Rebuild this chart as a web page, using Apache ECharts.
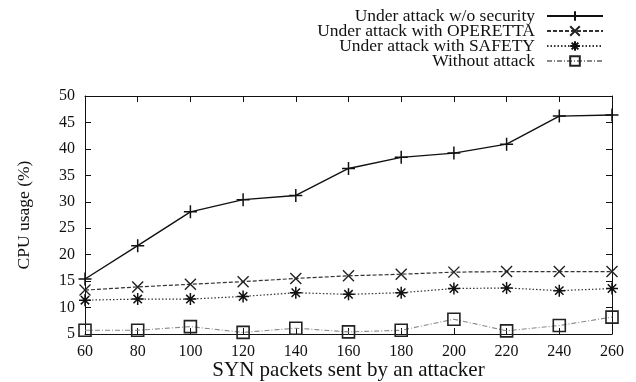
<!DOCTYPE html>
<html><head><meta charset="utf-8">
<script src="https://cdn.jsdelivr.net/npm/echarts@6/dist/echarts.min.js"></script>
<style>html,body{margin:0;padding:0;background:#fff}#c{width:636px;height:382px}</style>
</head><body><div id="c"></div>
<script>
var categories = ['60','80','100','120','140','160','180','200','220','240','260'];
var seriesNames = ['Under attack w/o security','Under attack with OPERETTA','Under attack with SAFETY','Without attack'];
var noSecurity = [15.4, 21.7, 28.1, 30.4, 31.2, 36.3, 38.4, 39.2, 40.9, 46.2, 46.4];
var operetta   = [13.3, 13.9, 14.4, 14.9, 15.5, 16.0, 16.3, 16.7, 16.8, 16.8, 16.8];
var safety     = [11.4, 11.6, 11.6, 12.1, 12.8, 12.5, 12.8, 13.6, 13.7, 13.2, 13.6];
var noAttack   = [5.7, 5.7, 6.4, 5.3, 6.1, 5.4, 5.7, 7.8, 5.6, 6.6, 8.2];
var yTicks = {min: 5, max: 50, interval: 5};

var FONT = '"Liberation Serif", "DejaVu Serif", serif';
var plusPath = 'path://M0,5L10,5M5,0L5,10';
var crossPath = 'path://M0,0L10,10M10,0L0,10';
var starPath = 'path://M0,5L10,5M5,0L5,10M1.5,1.5L8.5,8.5M8.5,1.5L1.5,8.5';

var chart = echarts.init(document.getElementById('c'), null, {renderer:'canvas'});
var axisLine = {show:true, lineStyle:{color:'#111', width:1}};
chart.setOption({
  animation:false,
  backgroundColor:'#fff',
  grid:{left:85, right:24, top:96, bottom:48, containLabel:false, outerBoundsMode:'none'},
  legend:{
    orient:'vertical', right:27, top:2, align:'right', itemWidth:56, itemHeight:12, itemGap:-3,
    textStyle:{fontFamily:FONT, fontSize:17.5, color:'#111', lineHeight:14, padding:[0,7,0,0]},
    data:seriesNames
  },
  xAxis:[{
    type:'category', data:categories, boundaryGap:false,
    axisLine:axisLine,
    axisTick:{show:true, inside:true, length:6, lineStyle:{color:'#111'}},
    axisLabel:{fontFamily:FONT, fontSize:16, color:'#111', margin:10},
    splitLine:{show:false},
    name:'SYN packets sent by an attacker', nameLocation:'middle', nameGap:26, nameMoveOverlap:false,
    nameTextStyle:{fontFamily:FONT, fontSize:21, color:'#111'}
  },{
    type:'category', data:categories, boundaryGap:false, position:'top',
    axisLine:axisLine,
    axisTick:{show:true, inside:true, length:6, lineStyle:{color:'#111'}},
    axisLabel:{show:false}, splitLine:{show:false}
  }],
  yAxis:[{
    type:'value', min:yTicks.min, max:yTicks.max, interval:yTicks.interval,
    axisLine:axisLine,
    axisTick:{show:true, inside:true, length:6, lineStyle:{color:'#111'}},
    axisLabel:{fontFamily:FONT, fontSize:16, color:'#111', margin:10},
    splitLine:{show:false},
    name:'CPU usage (%)', nameLocation:'middle', nameGap:52, nameRotate:90, nameMoveOverlap:false,
    nameTextStyle:{fontFamily:FONT, fontSize:17.5, color:'#111'}
  },{
    type:'value', min:yTicks.min, max:yTicks.max, interval:yTicks.interval, position:'right',
    axisLine:axisLine,
    axisTick:{show:true, inside:true, length:6, lineStyle:{color:'#111'}},
    axisLabel:{show:false}, splitLine:{show:false}
  }],
  series:[{
    name:seriesNames[0], type:'line', data:noSecurity,
    symbol:plusPath, symbolSize:13, showAllSymbol:true,
    lineStyle:{color:'#111', width:1.4, type:'solid'},
    itemStyle:{color:'#111', borderColor:'#111', borderWidth:1.5}
  },{
    name:seriesNames[1], type:'line', data:operetta,
    symbol:crossPath, symbolSize:11, showAllSymbol:true,
    lineStyle:{color:'#333', width:1.2, type:[4,2]},
    itemStyle:{color:'#222', borderColor:'#222', borderWidth:1.4}
  },{
    name:seriesNames[2], type:'line', data:safety,
    symbol:starPath, symbolSize:12, showAllSymbol:true,
    lineStyle:{color:'#333', width:1.2, type:[1.5,2]},
    itemStyle:{color:'#111', borderColor:'#111', borderWidth:1.5}
  },{
    name:seriesNames[3], type:'line', data:noAttack,
    symbol:'rect', symbolSize:12, showAllSymbol:true,
    lineStyle:{color:'#888', width:1.1, type:[5,2,1,2]},
    itemStyle:{color:'rgba(255,255,255,0)', borderColor:'#222', borderWidth:1.6}
  }]
});
</script></body></html>
